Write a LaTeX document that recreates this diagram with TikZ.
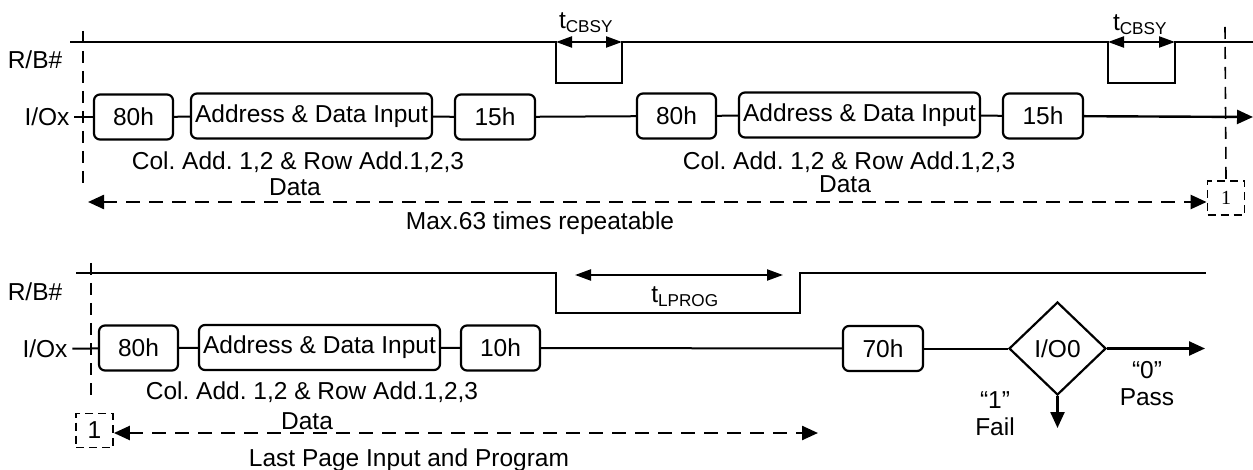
\documentclass[tikz,border=0pt]{standalone}
\usepackage{fontspec}
\setmainfont{Liberation Sans}
\newfontfamily\timesfont{Liberation Serif}
\usetikzlibrary{arrows.meta,shapes.geometric}
\frenchspacing

\begin{document}
\begin{tikzpicture}[x=1pt,y=-1pt,line width=2pt,
  font=\fontsize{24.5}{28}\selectfont,
  every node/.style={inner sep=0pt},
  cmd/.style={draw,rounded corners=6pt,minimum height=45pt,line width=2.2pt},
  pagetag/.style={draw,dash pattern=on 8pt off 5pt,minimum width=37pt,minimum height=34pt,line width=1.8pt},
  outarrow/.style={-{Triangle[length=16pt,width=14pt]},line width=2.4pt},
  dimarrow/.style={{Triangle[length=16pt,width=11pt]}-{Triangle[length=16pt,width=11pt]},line width=2.2pt},
  loopline/.style={{Triangle[length=16pt,width=14pt]}-{Triangle[length=16pt,width=14pt]},dash pattern=on 14pt off 9pt,line width=2.4pt},
  cursor/.style={dash pattern=on 12pt off 8pt,line width=1.6pt}]
\useasboundingbox (0,0) rectangle (1253,470);
\draw[line width=2.4pt] (70,42) -- (556,42) -- (556,83) -- (622,83) -- (622,42) -- (1108,42) -- (1108,83) -- (1175,83) -- (1175,42) -- (1253,42);
\draw[line width=2.4pt] (76,273) -- (556,273) -- (556,313) -- (800,313) -- (800,273) -- (1206,273);
\node (rb1) at (35,60) {R/B\#};
\node (rb2) at (35,292) {R/B\#};
\node[inner sep=4pt] (iox1) at (47,117) {I/Ox};
\node[inner sep=4pt] (iox2) at (45,349) {I/Ox};
\node[cmd,minimum width=79pt] (a80) at (133.5,117) {80h};
\node[cmd,minimum width=241pt] (addr) at (311.5,116) {Address \& Data Input};
\node[cmd,minimum width=80pt] (h15) at (495,117) {15h};
\node[cmd,minimum width=79pt] (b80) at (676.5,116) {80h};
\node[cmd,minimum width=241pt] (addrb) at (859.5,115) {Address \& Data Input};
\node[cmd,minimum width=80pt] (h15b) at (1043,116) {15h};
\coordinate (out1) at (1253,117);
\draw (iox1) -- (a80);
\draw (a80) -- (addr);
\draw (addr) -- (h15);
\draw (h15) -- (b80);
\draw (b80) -- (addrb);
\draw (addrb) -- (h15b);
\draw[outarrow] (h15b) -- (out1);
\node[cmd,minimum width=79pt] (c80) at (138.5,348) {80h};
\node[cmd,minimum width=241pt] (addrc) at (319.5,347.5) {Address \& Data Input};
\node[cmd,minimum width=79pt] (h10) at (500.5,348) {10h};
\node[cmd,minimum width=80pt] (h70) at (883,348.5) {70h};
\node[draw,diamond,minimum width=97pt,minimum height=93pt,line width=2.2pt] (io0) at (1057.5,348.5) {I/O0};
\coordinate (pass) at (1205,348.5);
\coordinate (fail) at (1057.5,428);
\draw (iox2) -- (c80);
\draw (c80) -- (addrc);
\draw (addrc) -- (h10);
\draw (h10) -- (h70);
\draw (h70) -- (io0);
\draw[outarrow] (io0) -- (pass);
\draw[outarrow] (io0) -- (fail);
\node (col1) at (298,162) {Col. Add. 1,2 \& Row Add.1,2,3};
\node (dat1) at (295,187) {Data};
\node (col2) at (849,162) {Col. Add. 1,2 \& Row Add.1,2,3};
\node (dat2) at (845,184) {Data};
\node (col3) at (312,392) {Col. Add. 1,2 \& Row Add.1,2,3};
\node (dat3) at (307,421) {Data};
\node (tc1) at (586,23) {t\textsubscript{CBSY}};
\node (tc2) at (1140,25) {t\textsubscript{CBSY}};
\node (tlp) at (685,297) {t\textsubscript{LPROG}};
\coordinate (tc1a) at (556,42);
\coordinate (tc1b) at (622,42);
\coordinate (tc2a) at (1108,42);
\coordinate (tc2b) at (1175,42);
\coordinate (tlpa) at (575,275);
\coordinate (tlpb) at (783,275);
\draw[dimarrow] (tc1a) -- (tc1b);
\draw[dimarrow] (tc2a) -- (tc2b);
\draw[dimarrow] (tlpa) -- (tlpb);
\node[pagetag] (one1) at (1226,198) {\timesfont\fontsize{20}{24}\selectfont 1};
\node[pagetag] (one2) at (94.5,430.5) {1};
\draw[cursor] (83,31) -- (83,190);
\draw[cursor] (1225,27) -- (one1.north);
\draw[cursor] (91,263) -- (91,397);
\coordinate (rep1) at (88,202);
\coordinate (last1) at (818,433);
\draw[loopline] (rep1) -- (one1.west |- rep1);
\draw[loopline] (one2.east |- last1) -- (last1);
\node (max) at (540,223) {Max.63 times repeatable};
\node (lpp) at (409,460) {Last Page Input and Program};
\node (q1) at (995,400) {“1”};
\node (fl) at (995,427) {Fail};
\node (q0) at (1147,370) {“0”};
\node (ps) at (1147,397) {Pass};
\end{tikzpicture}
\end{document}
